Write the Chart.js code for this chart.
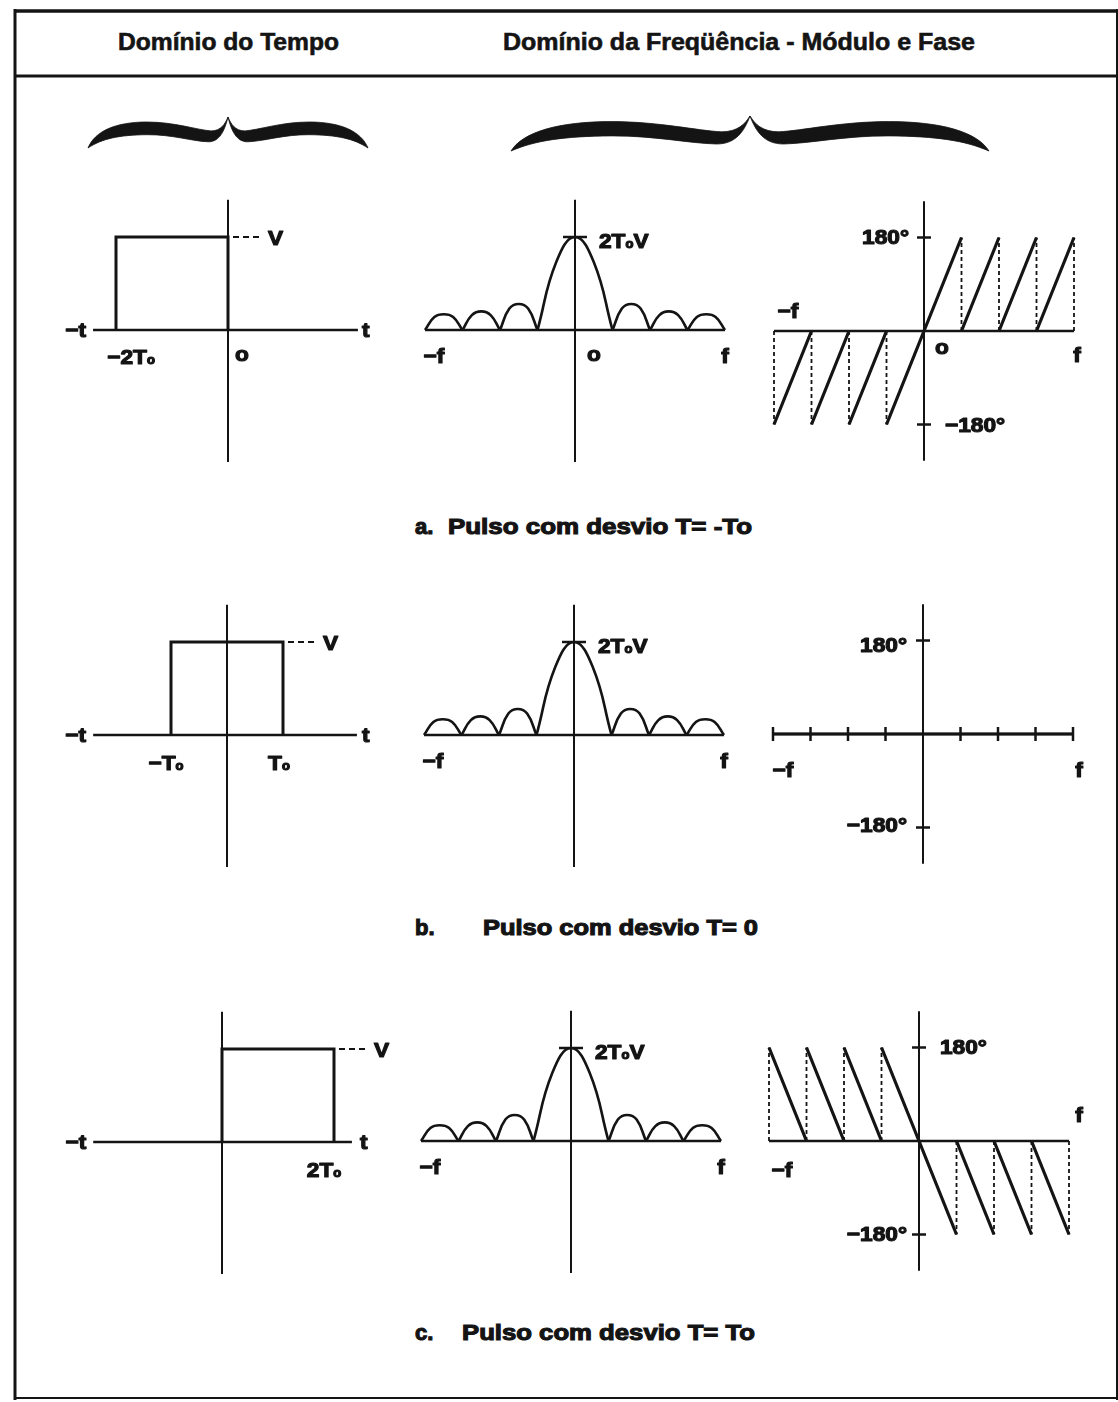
<!DOCTYPE html>
<html><head><meta charset="utf-8">
<script src="https://cdn.jsdelivr.net/npm/chart.js@4.4.1/dist/chart.umd.min.js"></script>
<style>
html,body{margin:0;padding:0;background:#fff;}
#page{position:relative;width:1118px;height:1402px;overflow:hidden;background:#fff;}
canvas.panel{position:absolute;}
.txt{position:absolute;white-space:pre;font-family:"Liberation Sans",Arial,sans-serif;font-weight:bold;color:#141414;transform-origin:0 50%;line-height:1;}
#deco{position:absolute;left:0;top:0;}
</style></head>
<body><div id="page"><svg id="deco" width="1118" height="1402" xmlns="http://www.w3.org/2000/svg"></svg></div>
<script>
// ================= DATA =================
const headerTexts = ['Domínio do Tempo', 'Domínio da Freqüência - Módulo e Fase'];
const captionLetters = ['a.', 'b.', 'c.'];
const captionTexts = ['Pulso com desvio T= -To', 'Pulso com desvio T= 0', 'Pulso com desvio T= To'];

// Time domain: rectangular pulse (t in units of T0, amplitude in units of V)
const pulseStart = [-2, -1, 0];
const pulseEnd   = [0, 1, 2];
const pulseLevel = [1, 1, 1];
const timeAxisMin = [-2.41, -2.39, -2.30];
const timeAxisMax = [2.32, 2.32, 2.32];
const ampAxisRange = [-1.42, 1.40];

// Magnitude spectrum |X(f)| (f in units of 1/2T0, peak 2T0·V = 1)
const lobeStartF = [-4, -3, -2, -1, 1, 2, 3];
const lobePeakF  = [-3.5, -2.5, -1.5, 0, 1.5, 2.5, 3.5];
const lobeEndF   = [-3, -2, -1, 1, 2, 3, 4];
const lobePeak   = [0.17, 0.20, 0.28, 1.00, 0.28, 0.20, 0.17];
const lobeShoulder = [0.14, 0.16, 0.23, 0.73, 0.23, 0.16, 0.14];  // value at quarter / three-quarter width
const freqAxisRange = [-4, 4];

// Phase spectrum (degrees)
const rampStartF = [-4, -3, -2, -1, 0, 1, 2, 3];
const rampEndF   = [-3, -2, -1, 0, 1, 2, 3, 4];
const phaseFromA = [-180, -180, -180, -180, 0, 0, 0, 0];
const phaseToA   = [0, 0, 0, 0, 180, 180, 180, 180];
const phaseFromB = [0, 0, 0, 0, 0, 0, 0, 0];
const phaseToB   = [0, 0, 0, 0, 0, 0, 0, 0];
const phaseFromC = [180, 180, 180, 180, 0, 0, 0, 0];
const phaseToC   = [0, 0, 0, 0, -180, -180, -180, -180];
const jumpF    = [-4, -3, -2, -1, 1, 2, 3, 4];
const jumpEndA = [-180, -180, -180, -180, 180, 180, 180, 180];
const jumpEndB = [0, 0, 0, 0, 0, 0, 0, 0];
const jumpEndC = [180, 180, 180, 180, -180, -180, -180, -180];
const phaseTickF = [-4, -3, -2, -1, 1, 2, 3, 4];
const phaseMarks = [180, -180];
const phaseAxisRange = [-250, 250];

// ================= LAYOUT =================
const INK = '#141414';
const COLS = [[40, 360], [400, 360], [760, 356]];
const ROWS = [[190, 300], [590, 300], [990, 300]];
const ORIGIN = {
  time:  [[228, 330], [227, 735], [222, 1142]],
  mag:   [[575, 330], [574, 735], [571, 1141]],
  phase: [[924, 331], [923, 734], [919, 1141]]
};
const KSCALE = { time: [56, 93], mag: [37.5, 93], phase: [37.5, 93.5 / 180] };
const page = document.getElementById('page');

function seg(points, extra) {
  return Object.assign({ data: points, showLine: true, borderColor: INK, borderWidth: 2.5,
    pointRadius: 0, pointHoverRadius: 0, tension: 0, fill: false, clip: false }, extra || {});
}

function drawRich(ctx, parts, x, y, align) {
  const F = 'bold 21px "Liberation Sans", Arial, sans-serif';
  const FS = 'bold 12px "Liberation Sans", Arial, sans-serif';
  const SX = 1.08;
  let w = 0;
  const ws = parts.map(([t, sub]) => { ctx.font = sub ? FS : F; const m = ctx.measureText(t).width; w += m; return m; });
  ctx.save();
  ctx.translate(x, y);
  ctx.scale(SX, 1);
  let cx = align === 'left' ? 0 : (align === 'right' ? -w : -w / 2);
  ctx.fillStyle = INK; ctx.strokeStyle = INK; ctx.lineWidth = 1.2; ctx.lineJoin = 'round';
  ctx.textBaseline = 'middle'; ctx.textAlign = 'left';
  parts.forEach(([t, sub], i) => {
    ctx.font = sub ? FS : F;
    const yy = sub ? 4 : 1;
    ctx.fillText(t, cx, yy); ctx.strokeText(t, cx, yy);
    cx += ws[i];
  });
  ctx.restore();
}

function drawDecor(chart, spec) {
  const xs = chart.scales.x, ys = chart.scales.y, ctx = chart.ctx;
  const px = v => xs.getPixelForValue(v), py = v => ys.getPixelForValue(v);
  ctx.save();
  ctx.strokeStyle = INK; ctx.lineCap = 'butt';
  (spec.leaders || []).forEach(l => {
    ctx.setLineDash([6, 4]); ctx.lineWidth = 2;
    ctx.beginPath(); ctx.moveTo(px(l.x) + l.d0, py(l.y)); ctx.lineTo(px(l.x) + l.d1, py(l.y)); ctx.stroke();
  });
  ctx.setLineDash([]);
  (spec.hTicks || []).forEach(t => {
    ctx.lineWidth = 2.5;
    ctx.beginPath(); ctx.moveTo(px(t.x) - t.half, py(t.y)); ctx.lineTo(px(t.x) + t.half, py(t.y)); ctx.stroke();
  });
  (spec.vTicks || []).forEach(t => {
    ctx.lineWidth = 2.5;
    ctx.beginPath(); ctx.moveTo(px(t.x), py(t.y) - t.half); ctx.lineTo(px(t.x), py(t.y) + t.half); ctx.stroke();
  });
  (spec.labels || []).forEach(l => drawRich(ctx, l.p, px(l.at[0]) + l.dx, py(l.at[1]) + l.dy, l.al));
  ctx.restore();
}

let chartCount = 0;
function makeChart(col, row, origin, k, datasets, spec) {
  const [L, W] = COLS[col], [T, H] = ROWS[row];
  const cv = document.createElement('canvas');
  cv.width = W; cv.height = H; cv.className = 'panel';
  cv.style.left = L + 'px'; cv.style.top = T + 'px';
  cv.style.width = W + 'px'; cv.style.height = H + 'px';
  page.appendChild(cv);
  const [ox, oy] = origin, [kx, ky] = k;
  chartCount++;
  new Chart(cv, {
    type: 'scatter',
    data: { datasets },
    options: {
      responsive: false, animation: false, events: [], devicePixelRatio: 1,
      layout: { padding: 0 },
      plugins: { legend: { display: false }, tooltip: { enabled: false } },
      scales: {
        x: { type: 'linear', display: false, min: (L - ox) / kx, max: (L + W - ox) / kx },
        y: { type: 'linear', display: false, min: (oy - T - H) / ky, max: (oy - T) / ky }
      }
    },
    plugins: [{ id: 'decor' + chartCount, afterDatasetsDraw(chart) { drawDecor(chart, spec); } }]
  });
}

// ---------- time-domain panels ----------
const timeTickLabels = [
  [{ p: [['−2T'], ['o', 1]], at: [-2, 0], dx: 15, dy: 27, al: 'center' }, { p: [['o']], at: [0, 0], dx: 14, dy: 24, al: 'center' }],
  [{ p: [['−T'], ['o', 1]], at: [-1, 0], dx: -5, dy: 28, al: 'center' }, { p: [['T'], ['o', 1]], at: [1, 0], dx: -4, dy: 28, al: 'center' }],
  [{ p: [['2T'], ['o', 1]], at: [2, 0], dx: -10, dy: 28, al: 'center' }]
];
const tDx = [4, 5, 8];
for (let r = 0; r < 3; r++) {
  const ds = [
    seg([{ x: timeAxisMin[r], y: 0 }, { x: timeAxisMax[r], y: 0 }], { borderWidth: 2.5 }),
    seg([{ x: 0, y: ampAxisRange[0] }, { x: 0, y: ampAxisRange[1] }], { borderWidth: 2 }),
    seg([{ x: pulseStart[r], y: 0 }, { x: pulseStart[r], y: pulseLevel[r] }, { x: pulseEnd[r], y: pulseLevel[r] }, { x: pulseEnd[r], y: 0 }], { borderWidth: 3 })
  ];
  const spec = {
    leaders: [{ x: pulseEnd[r], y: pulseLevel[r], d0: 5, d1: 32 }],
    labels: [
      { p: [['−t']], at: [timeAxisMin[r], 0], dx: -7, dy: 0, al: 'right' },
      { p: [['t']], at: [timeAxisMax[r], 0], dx: tDx[r], dy: 0, al: 'left' },
      { p: [['V']], at: [pulseEnd[r], pulseLevel[r]], dx: 40, dy: 1, al: 'left' }
    ].concat(timeTickLabels[r])
  };
  makeChart(0, r, ORIGIN.time[r], KSCALE.time, ds, spec);
}

// ---------- magnitude panels ----------
for (let r = 0; r < 3; r++) {
  const ds = [
    seg([{ x: freqAxisRange[0], y: 0 }, { x: freqAxisRange[1], y: 0 }], { borderWidth: 2.5 }),
    seg([{ x: 0, y: ampAxisRange[0] }, { x: 0, y: ampAxisRange[1] }], { borderWidth: 2 })
  ];
  for (let i = 0; i < lobePeak.length; i++) {
    const s = lobeStartF[i], c = lobePeakF[i], e = lobeEndF[i];
    ds.push(seg([
      { x: s, y: 0 },
      { x: (s + c) / 2, y: lobeShoulder[i] },
      { x: c, y: lobePeak[i] },
      { x: (c + e) / 2, y: lobeShoulder[i] },
      { x: e, y: 0 }
    ], { borderWidth: 2.6, tension: 0.45 }));
  }
  const labels = [
    { p: [['2T'], ['o', 1], ['V']], at: [0, 1], dx: 24, dy: 4, al: 'left' },
    { p: [['−f']], at: [freqAxisRange[0], 0], dx: 9, dy: 26, al: 'center' },
    { p: [['f']], at: [freqAxisRange[1], 0], dx: 0, dy: 26, al: 'center' }
  ];
  if (r === 0) labels.push({ p: [['o']], at: [0, 0], dx: 19, dy: 24, al: 'center' });
  makeChart(1, r, ORIGIN.mag[r], KSCALE.mag, ds, { hTicks: [{ x: 0, y: lobePeak[3], half: 12 }], labels });
}

// ---------- phase panels ----------
const phaseFrom = [phaseFromA, phaseFromB, phaseFromC];
const phaseTo = [phaseToA, phaseToB, phaseToC];
const jumpEnd = [jumpEndA, jumpEndB, jumpEndC];
const phaseLabels = [
  [{ p: [['180°']], at: [0, 180], dx: -15, dy: 0, al: 'right' },
   { p: [['−180°']], at: [0, -180], dx: 21, dy: 1, al: 'left' },
   { p: [['−f']], at: [-4, 0], dx: 14, dy: -20, al: 'center' },
   { p: [['f']], at: [4, 0], dx: 3, dy: 24, al: 'center' },
   { p: [['o']], at: [0, 0], dx: 18, dy: 16, al: 'center' }],
  [{ p: [['180°']], at: [0, 180], dx: -16, dy: 5, al: 'right' },
   { p: [['−180°']], at: [0, -180], dx: -16, dy: -2, al: 'right' },
   { p: [['−f']], at: [-4, 0], dx: 10, dy: 36, al: 'center' },
   { p: [['f']], at: [4, 0], dx: 6, dy: 36, al: 'center' }],
  [{ p: [['180°']], at: [0, 180], dx: 21, dy: 0, al: 'left' },
   { p: [['−180°']], at: [0, -180], dx: -12, dy: 0, al: 'right' },
   { p: [['f']], at: [4, 0], dx: 10, dy: -26, al: 'center' },
   { p: [['−f']], at: [-4, 0], dx: 13, dy: 29, al: 'center' }]
];
const showPhaseTicks = [false, true, false];
for (let r = 0; r < 3; r++) {
  const ds = [
    seg([{ x: freqAxisRange[0], y: 0 }, { x: freqAxisRange[1], y: 0 }], { borderWidth: 2.5 }),
    seg([{ x: 0, y: phaseAxisRange[0] }, { x: 0, y: phaseAxisRange[1] }], { borderWidth: 2 })
  ];
  for (let i = 0; i < rampStartF.length; i++) {
    ds.push(seg([{ x: rampStartF[i], y: phaseFrom[r][i] }, { x: rampEndF[i], y: phaseTo[r][i] }], { borderWidth: 3.2 }));
  }
  for (let i = 0; i < jumpF.length; i++) {
    if (jumpEnd[r][i] === 0) continue;
    ds.push(seg([{ x: jumpF[i], y: 0 }, { x: jumpF[i], y: jumpEnd[r][i] }], { borderWidth: 1.8, borderDash: [4, 3] }));
  }
  const spec = {
    hTicks: phaseMarks.map(m => ({ x: 0, y: m, half: 7 })),
    vTicks: showPhaseTicks[r] ? phaseTickF.map(f => ({ x: f, y: 0, half: 7 })) : [],
    labels: phaseLabels[r]
  };
  makeChart(2, r, ORIGIN.phase[r], KSCALE.phase, ds, spec);
}

// ---------- frame, braces, texts ----------
const svg = document.getElementById('deco');
const NS = 'http://www.w3.org/2000/svg';
function svgLine(x1, y1, x2, y2, w) {
  const l = document.createElementNS(NS, 'line');
  l.setAttribute('x1', x1); l.setAttribute('y1', y1); l.setAttribute('x2', x2); l.setAttribute('y2', y2);
  l.setAttribute('stroke', INK); l.setAttribute('stroke-width', w);
  svg.appendChild(l);
}
svgLine(15, 11, 1118, 11, 3.5);
svgLine(15, 76, 1118, 76, 3);
svgLine(15, 9, 15, 1400, 3);
svgLine(15, 1398, 1118, 1398, 2);
svgLine(1117, 9, 1117, 1400, 2);

function bracePath(x1, x2, yEnd, yTip) {
  const half = (x2 - x1) / 2, H = yEnd - yTip;
  const L = (u, v) => (x1 + u * half).toFixed(1) + ',' + (yEnd - v * H).toFixed(1);
  const R = (u, v) => (x2 - u * half).toFixed(1) + ',' + (yEnd - v * H).toFixed(1);
  return [
    'M' + L(0, 0),
    'C' + L(0.05, 0.55) + ' ' + L(0.2, 0.84) + ' ' + L(0.42, 0.84),
    'C' + L(0.62, 0.84) + ' ' + L(0.78, 0.58) + ' ' + L(0.88, 0.55),
    'C' + L(0.95, 0.55) + ' ' + L(0.98, 0.78) + ' ' + L(1, 1),
    'C' + R(0.98, 0.78) + ' ' + R(0.95, 0.55) + ' ' + R(0.88, 0.55),
    'C' + R(0.78, 0.58) + ' ' + R(0.62, 0.84) + ' ' + R(0.42, 0.84),
    'C' + R(0.2, 0.84) + ' ' + R(0.05, 0.55) + ' ' + R(0, 0),
    'C' + R(0.1, 0.3) + ' ' + R(0.22, 0.42) + ' ' + R(0.42, 0.43),
    'C' + R(0.6, 0.44) + ' ' + R(0.74, 0.22) + ' ' + R(0.86, 0.2),
    'C' + R(0.94, 0.2) + ' ' + R(0.975, 0.55) + ' ' + R(1, 1),
    'C' + L(0.975, 0.55) + ' ' + L(0.94, 0.2) + ' ' + L(0.86, 0.2),
    'C' + L(0.74, 0.22) + ' ' + L(0.6, 0.44) + ' ' + L(0.42, 0.43),
    'C' + L(0.22, 0.42) + ' ' + L(0.1, 0.3) + ' ' + L(0, 0) + 'Z'
  ].join(' ');
}
[[88, 368, 148, 117], [511, 989, 151, 116]].forEach(b => {
  const p = document.createElementNS(NS, 'path');
  p.setAttribute('d', bracePath(b[0], b[1], b[2], b[3]));
  p.setAttribute('fill', INK);
  p.setAttribute('stroke', INK);
  p.setAttribute('stroke-width', '0.8');
  svg.appendChild(p);
});

function placeText(str, left, cy, target, size, stroke) {
  const d = document.createElement('div');
  d.className = 'txt'; d.textContent = str;
  d.style.fontSize = size + 'px'; d.style.left = left + 'px'; d.style.top = (cy - size * 0.5) + 'px';
  d.style.webkitTextStroke = stroke + 'px #141414';
  page.appendChild(d);
  if (target) {
    const w = d.getBoundingClientRect().width;
    d.style.transform = 'scaleX(' + (target / w).toFixed(4) + ')';
  }
}
placeText(headerTexts[0], 118, 42, 221, 24, 0.6);
placeText(headerTexts[1], 503, 42, 472, 24, 0.6);
const capY = [527, 928, 1333];
const capTextLeft = [448, 483, 462];
const capTextWidth = [304, 275, 293];
for (let r = 0; r < 3; r++) {
  placeText(captionLetters[r], 415, capY[r], 0, 22, 1.1);
  placeText(captionTexts[r], capTextLeft[r], capY[r], capTextWidth[r], 22, 1.1);
}
</script></body></html>
